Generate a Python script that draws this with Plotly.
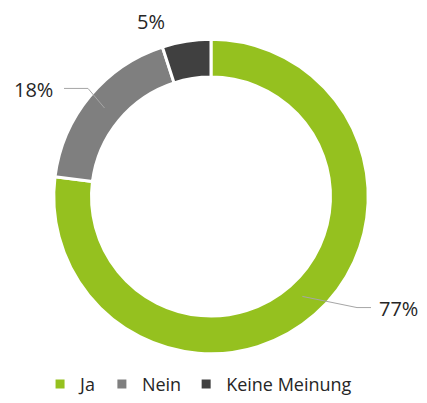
import math
import plotly.graph_objects as go

categories = ["Ja", "Nein", "Keine Meinung"]
values = [77, 18, 5]
colors = ["#95c11f", "#7f7f7f", "#404040"]

W, H = 427, 403
cx, cy, R = 211, 198, 157  # pixel center / radius of the donut (layout)
hole = 0.76

# label placement (layout, pixels): label anchor point, elbow point
label_pos = {
    "Ja": dict(x=377, y=314, xanchor="left", elbow=(357, 313), end=(371, 313)),
    "Nein": dict(x=55, y=91, xanchor="right", elbow=(88, 90), end=(64, 90)),
    "Keine Meinung": dict(x=151, y=22, xanchor="center", elbow=None, end=None),
}

Rd = R + 3  # plotly draws the pie slightly inside its domain
fig = go.Figure(go.Pie(
    labels=categories, values=values, hole=hole, sort=False,
    direction="clockwise", rotation=0,
    marker=dict(colors=colors, line=dict(color="white", width=3)),
    textinfo="none", hoverinfo="label+percent",
    domain=dict(x=[(cx - Rd) / W, (cx + Rd) / W], y=[(H - cy - 2 - Rd) / H, (H - cy - 2 + Rd) / H]),
))

def px2paper(x, y):
    return x / W, (H - y) / H

total = sum(values)
cum = 0
rmid = R * (1 + hole) / 2
for cat, v in zip(categories, values):
    mid = (cum + v / 2) / total * 2 * math.pi
    cum += v
    lp = label_pos[cat]
    ax, ay = px2paper(lp["x"], lp["y"])
    fig.add_annotation(x=ax, y=ay, xref="paper", yref="paper", showarrow=False,
                       text=f"{round(v / total * 100)}%", xanchor=lp["xanchor"], yanchor="middle",
                       font=dict(family="Open Sans", size=20, color="#262626"))
    if lp["elbow"]:
        sx = cx + rmid * math.sin(mid)
        sy = cy - rmid * math.cos(mid)
        pts = [(sx, sy), lp["elbow"], lp["end"]]
        path = "M " + " L ".join(f"{px2paper(x, y)[0]},{px2paper(x, y)[1]}" for x, y in pts)
        fig.add_shape(type="path", path=path, xref="paper", yref="paper",
                      line=dict(color="#a6a6a6", width=1))

fig.update_layout(
    width=W, height=H, margin=dict(l=0, r=0, t=0, b=0),
    paper_bgcolor="white", plot_bgcolor="white",
    showlegend=True,
    legend=dict(orientation="h", x=0.465, xanchor="center", y=(H - 391) / H, yanchor="middle",
                font=dict(family="Open Sans", size=18, color="#262626"),
                itemwidth=30, traceorder="normal"),
)

fig.write_html("out.html", config={"displayModeBar": False},
               post_script="document.body.style.margin='0';document.body.style.padding='0';")
